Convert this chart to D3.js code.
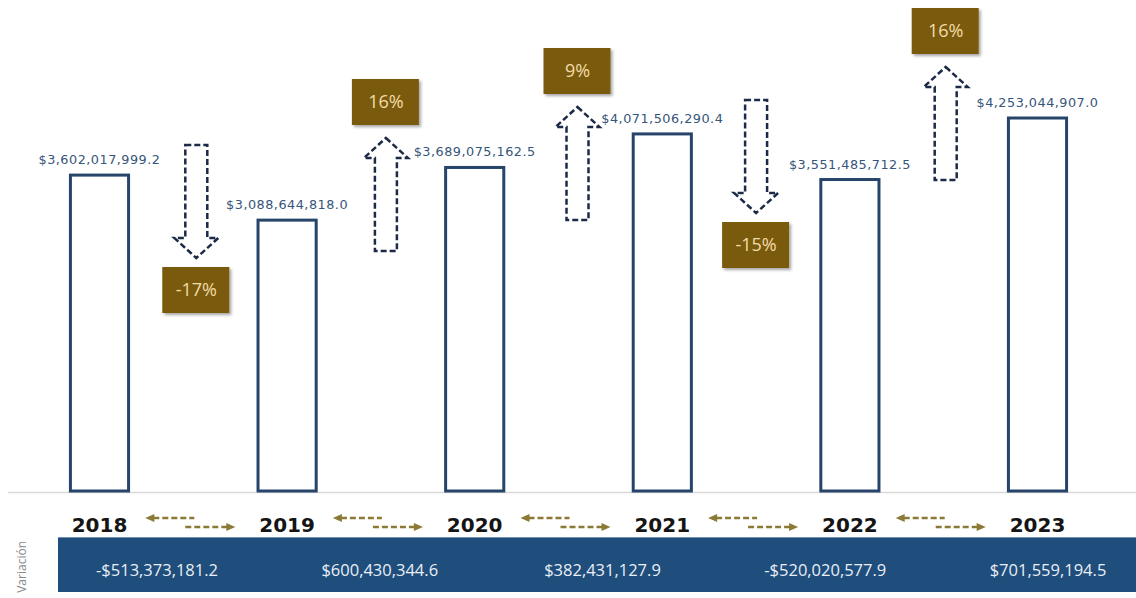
<!DOCTYPE html>
<html><head><meta charset="utf-8">
<script src="https://cdn.jsdelivr.net/npm/d3@7"></script>
<style>
html,body{margin:0;padding:0;background:#fff;}
svg{display:block;}
</style></head>
<body>
<script>
// ---- data ----
const years = ["2018","2019","2020","2021","2022","2023"];
const values = [3602017999.2, 3088644818.0, 3689075162.5, 4071506290.4, 3551485712.5, 4253044907.0];
const valueLabels = ["$3,602,017,999.2","$3,088,644,818.0","$3,689,075,162.5","$4,071,506,290.4","$3,551,485,712.5","$4,253,044,907.0"];
const variations = ["-$513,373,181.2","$600,430,344.6","$382,431,127.9","-$520,020,577.9","$701,559,194.5"];
const pctLabels = ["-17%","16%","9%","-15%","16%"];
const directions = ["down","up","up","down","up"];

// ---- layout (annotation placement, px) ----
const W = 1136, H = 598;
const arrowTop = [145, 138, 107, 100, 67];
const arrowDx = [3, 5, 9, 0, 2];
const arrowLen = 113;

const svg = d3.select("body").append("svg").attr("width", W).attr("height", H);
const defs = svg.append("defs");
const f = defs.append("filter").attr("id","sh").attr("x","-20%").attr("y","-20%").attr("width","150%").attr("height","150%");
f.append("feDropShadow").attr("dx",2).attr("dy",2).attr("stdDeviation",1.5).attr("flood-color","#000").attr("flood-opacity",0.35);

const x = d3.scaleBand().domain(years).range([5.7, 1131.3]).paddingInner(0.69).paddingOuter(0.345);
const y = d3.scaleLinear().domain([0, 5e9]).range([491, 52.5]);
const cx = d => x(d) + x.bandwidth()/2;

// baseline
svg.append("line").attr("x1", 8).attr("x2", W).attr("y1", y(0)+1.5).attr("y2", y(0)+1.5)
  .attr("stroke", "#d9d9d9").attr("stroke-width", 1.5);

// bars
svg.selectAll("rect.bar").data(years).join("rect").attr("class","bar")
  .attr("x", d => x(d)).attr("width", x.bandwidth())
  .attr("y", (d,i) => y(values[i])).attr("height", (d,i) => y(0) - y(values[i]))
  .attr("fill", "#fff").attr("stroke", "#27456b").attr("stroke-width", 3);

// value labels
svg.selectAll("text.val").data(years).join("text").attr("class","val")
  .attr("x", d => cx(d)).attr("y", (d,i) => y(values[i]) - 11)
  .attr("text-anchor","middle").attr("font-family","DejaVu Sans").attr("font-size", 12.8)
  .attr("letter-spacing", 0.5).attr("fill", "#36557a")
  .text((d,i) => valueLabels[i]);

// year labels
svg.selectAll("text.yr").data(years).join("text").attr("class","yr")
  .attr("x", d => cx(d)).attr("y", 532)
  .attr("text-anchor","middle").attr("font-family","DejaVu Sans").attr("font-weight","bold")
  .attr("font-size", 20).attr("fill", "#151515")
  .text(d => d);

// gaps
const gaps = d3.range(years.length - 1).map(i => ({i, mid: (cx(years[i]) + cx(years[i+1]))/2}));

// small gold dashed arrows
const gold = "#8b7a35";
gaps.forEach(g => {
  const m = g.mid;
  svg.append("line").attr("x1", m - 40).attr("x2", m + 1).attr("y1", 518).attr("y2", 518)
    .attr("stroke", gold).attr("stroke-width", 2.5).attr("stroke-dasharray", "6 3");
  svg.append("path").attr("d", `M${m-48},518 L${m-39},514 L${m-39},522 Z`).attr("fill", gold);
  svg.append("line").attr("x1", m - 8).attr("x2", m + 34).attr("y1", 527).attr("y2", 527)
    .attr("stroke", gold).attr("stroke-width", 2.5).attr("stroke-dasharray", "6 3");
  svg.append("path").attr("d", `M${m+42},527 L${m+33},523 L${m+33},531 Z`).attr("fill", gold);
});

// dashed block arrows + pct boxes
gaps.forEach(g => {
  const c = g.mid + arrowDx[g.i], t = arrowTop[g.i], L = arrowLen;
  const sw = 11, hw = 22, hl = 20;
  let pts, boxY;
  if (directions[g.i] === "down") {
    pts = [[c-sw,t],[c+sw,t],[c+sw,t+L-hl],[c+hw,t+L-hl],[c,t+L],[c-hw,t+L-hl],[c-sw,t+L-hl]];
    boxY = t + L + 9;
  } else {
    pts = [[c,t],[c+hw,t+hl],[c+sw,t+hl],[c+sw,t+L],[c-sw,t+L],[c-sw,t+hl],[c-hw,t+hl]];
    boxY = t - 13 - 46;
  }
  svg.append("path").attr("d", d3.line()(pts) + "Z")
    .attr("fill","none").attr("stroke","#1d2a47").attr("stroke-width",2.5)
    .attr("stroke-dasharray","6 3").attr("stroke-linejoin","miter");
  const bx = c - 34;
  svg.append("rect").attr("x", bx).attr("y", boxY).attr("width", 67).attr("height", 46)
    .attr("fill", "#7a5a08").attr("filter","url(#sh)");
  svg.append("text").attr("x", c).attr("y", boxY + 23).attr("dy","0.35em")
    .attr("text-anchor","middle").attr("font-family","Open Sans").attr("font-size", 18)
    .attr("fill", "#f2dca8").text(pctLabels[g.i]);
});

// bottom band
svg.append("rect").attr("x", 58).attr("y", 537).attr("width", W - 58).attr("height", 55)
  .attr("fill", "#1f4d7c");
svg.append("line").attr("x1", 58).attr("x2", W).attr("y1", 537.5).attr("y2", 537.5)
  .attr("stroke", "#6f8fb3").attr("stroke-width", 1);
const vx = d3.scalePoint().domain(d3.range(variations.length)).range([157, 1048]);
svg.selectAll("text.var").data(variations).join("text").attr("class","var")
  .attr("x", (d,i) => vx(i)).attr("y", 570).attr("dy","0.35em")
  .attr("text-anchor","middle").attr("font-family","Open Sans").attr("font-size", 16.5)
  .attr("fill", "#e9eff6").text(d => d);

// vertical label
svg.append("text").attr("transform","translate(26,541) rotate(-90)")
  .attr("text-anchor","end").attr("font-family","Open Sans").attr("font-size", 12)
  .attr("fill", "#8a8a8a").text("Variación");
</script>
</body></html>
